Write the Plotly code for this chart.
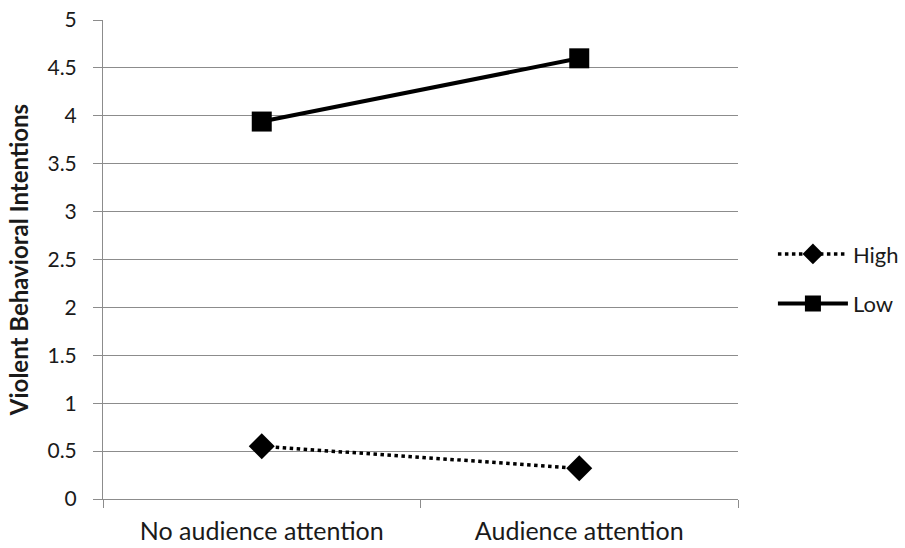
import plotly.graph_objects as go

# Condition labels and mean ratings for each group
conditions = ["No audience attention", "Audience attention"]
high_values = [0.55, 0.32]
low_values = [3.94, 4.60]
y_ticks = [0, 0.5, 1, 1.5, 2, 2.5, 3, 3.5, 4, 4.5, 5]
y_tick_labels = ["0", "0.5", "1", "1.5", "2", "2.5", "3", "3.5", "4", "4.5", "5"]

FONT = "Lato"
GRID = "#8c8c8c"
TEXT = "#1a1a1a"

fig = go.Figure()
fig.add_trace(go.Scatter(
    x=conditions, y=high_values, name="High", mode="lines+markers",
    legendgroup="high",
    line=dict(color="black", width=3.5, dash="dot"),
    marker=dict(symbol="diamond", size=20, color="black"),
))
fig.add_trace(go.Scatter(
    x=conditions, y=low_values, name="Low", mode="lines+markers",
    legendgroup="low",
    line=dict(color="black", width=4),
    marker=dict(symbol="square", size=20, color="black"),
))

fig.update_layout(
    width=905, height=548,
    margin=dict(l=103, r=167, t=20, b=49, autoexpand=False),
    paper_bgcolor="white", plot_bgcolor="white",
    font=dict(family=FONT, size=22, color=TEXT),
    showlegend=True,
    legend=dict(x=1.055, y=0.459, yanchor="middle", xanchor="left",
                font=dict(family=FONT, size=22, color=TEXT),
                traceorder="grouped", tracegroupgap=18, itemwidth=70),
    xaxis=dict(
        range=[-0.5, 1.5], showgrid=False, zeroline=False, automargin=False,
        showline=True, linecolor=GRID, linewidth=1,
        ticks="outside", ticklen=8, tickcolor=GRID, tickson="boundaries",
        ticklabelstandoff=10,
        tickfont=dict(family=FONT, size=25, color=TEXT),
    ),
    yaxis=dict(
        range=[0, 5], tickvals=y_ticks, ticktext=y_tick_labels, automargin=False,
        showgrid=True, gridcolor=GRID, gridwidth=1, zeroline=False,
        showline=True, linecolor=GRID, linewidth=1,
        ticks="outside", ticklen=9, tickcolor=GRID, ticklabelstandoff=12,
        tickfont=dict(family=FONT, size=21, color=TEXT),
        title=dict(text="<b>Violent Behavioral Intentions</b>",
                   font=dict(family=FONT, size=24, color=TEXT), standoff=12),
    ),
)

fig.write_html("out.html")
